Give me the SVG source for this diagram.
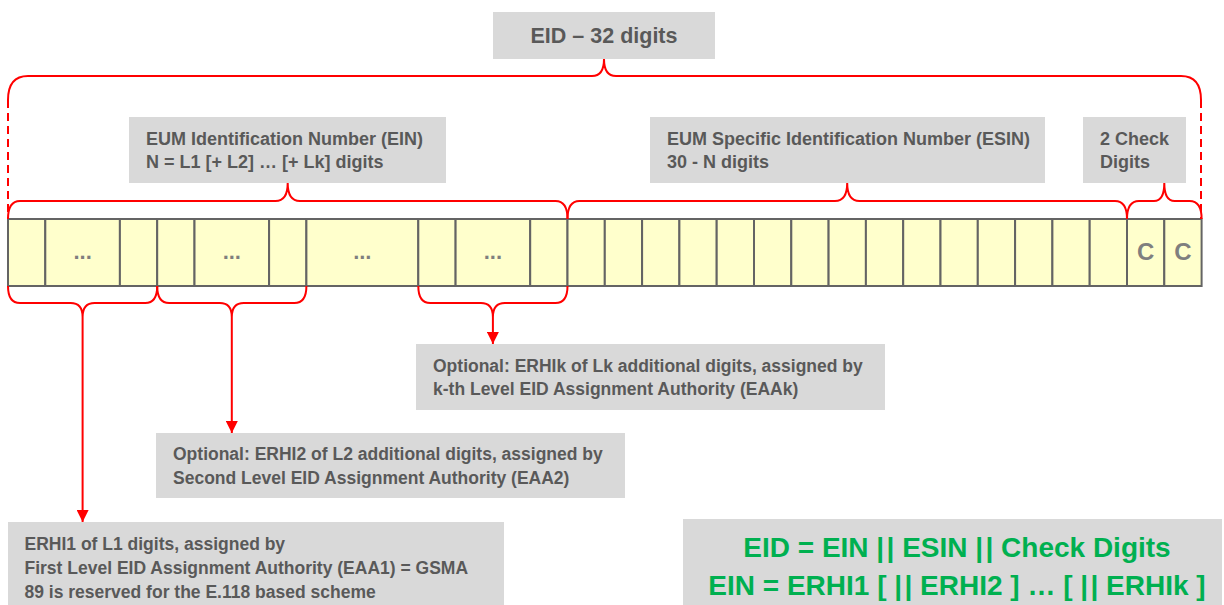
<svg xmlns="http://www.w3.org/2000/svg" width="1224" height="605" viewBox="0 0 1224 605">
<style>
.box{fill:#D9D9D9}
.t{font-family:"Liberation Sans",Arial,sans-serif;font-weight:bold;fill:#595959}
.cell{fill:#FFFFCC;stroke:#646464;stroke-width:2}
.dots{font-family:"Liberation Sans",Arial,sans-serif;font-weight:bold;fill:#7F7F7F;font-size:22px;text-anchor:middle}
.cc{font-family:"Liberation Sans",Arial,sans-serif;font-weight:bold;fill:#7F7F7F;font-size:24px;text-anchor:middle}
.br{fill:none;stroke:#FF0000;stroke-width:2}
.dash{fill:none;stroke:#FF0000;stroke-width:2;stroke-dasharray:8 5}
.ar{fill:none;stroke:#FF0000;stroke-width:2;marker-end:url(#arr)}
.g{font-family:"Liberation Sans",Arial,sans-serif;font-weight:bold;fill:#00B050;font-size:28px;text-anchor:middle}
</style>
<defs>
<marker id="arr" viewBox="0 0 10 10" refX="10" refY="5" markerWidth="13" markerHeight="12" orient="auto" markerUnits="userSpaceOnUse">
<path d="M0,0 L10,5 L0,10 z" fill="#FF0000"/>
</marker>
</defs>
<rect width="1224" height="605" fill="#FFFFFF"/>

<g id="eid-label">
<rect class="box" x="493" y="12" width="222" height="47"/>
<text class="t" x="604" y="43" font-size="21.5" text-anchor="middle">EID – 32 digits</text>
</g>

<g id="ein-label">
<rect class="box" x="129" y="117" width="317" height="66"/>
<text class="t" font-size="18"><tspan x="146" y="145">EUM Identification Number (EIN)</tspan><tspan x="146" y="168">N = L1 [+ L2] … [+ Lk] digits</tspan></text>
</g>

<g id="esin-label">
<rect class="box" x="650" y="117" width="395" height="66"/>
<text class="t" font-size="18"><tspan x="667" y="145">EUM Specific Identification Number (ESIN)</tspan><tspan x="667" y="168">30 - N digits</tspan></text>
</g>

<g id="check-label">
<rect class="box" x="1083" y="117" width="103" height="66"/>
<text class="t" font-size="18"><tspan x="1100" y="145">2 Check</tspan><tspan x="1100" y="168">Digits</tspan></text>
</g>

<g id="digit-row">
<rect class="cell" x="8" y="219" width="37.3" height="67"/>
<rect class="cell" x="45.3" y="219" width="74.6" height="67"/>
<rect class="cell" x="119.9" y="219" width="37.3" height="67"/>
<rect class="cell" x="157.2" y="219" width="37.3" height="67"/>
<rect class="cell" x="194.5" y="219" width="74.6" height="67"/>
<rect class="cell" x="269.1" y="219" width="37.3" height="67"/>
<rect class="cell" x="306.4" y="219" width="111.9" height="67"/>
<rect class="cell" x="418.3" y="219" width="37.3" height="67"/>
<rect class="cell" x="455.6" y="219" width="74.6" height="67"/>
<rect class="cell" x="530.2" y="219" width="37.3" height="67"/>
<rect class="cell" x="567.5" y="219" width="37.3" height="67"/>
<rect class="cell" x="604.8" y="219" width="37.3" height="67"/>
<rect class="cell" x="642.1" y="219" width="37.3" height="67"/>
<rect class="cell" x="679.4" y="219" width="37.3" height="67"/>
<rect class="cell" x="716.7" y="219" width="37.3" height="67"/>
<rect class="cell" x="754" y="219" width="37.3" height="67"/>
<rect class="cell" x="791.3" y="219" width="37.3" height="67"/>
<rect class="cell" x="828.6" y="219" width="37.3" height="67"/>
<rect class="cell" x="865.9" y="219" width="37.3" height="67"/>
<rect class="cell" x="903.2" y="219" width="37.3" height="67"/>
<rect class="cell" x="940.5" y="219" width="37.3" height="67"/>
<rect class="cell" x="977.8" y="219" width="37.3" height="67"/>
<rect class="cell" x="1015.1" y="219" width="37.3" height="67"/>
<rect class="cell" x="1052.4" y="219" width="37.3" height="67"/>
<rect class="cell" x="1089.7" y="219" width="37.3" height="67"/>
<rect class="cell" x="1127" y="219" width="37.3" height="67"/>
<rect class="cell" x="1164.3" y="219" width="37.3" height="67"/>
<text class="dots" x="82.6" y="259">...</text>
<text class="dots" x="231.8" y="259">...</text>
<text class="dots" x="362.3" y="259">...</text>
<text class="dots" x="492.9" y="259">...</text>
<text class="cc" x="1145.6" y="260">C</text>
<text class="cc" x="1183" y="260">C</text>
</g>

<g id="erhik-box">
<rect class="box" x="416" y="344" width="469" height="66"/>
<text class="t" font-size="17.5"><tspan x="433" y="372">Optional: ERHIk of Lk additional digits, assigned by</tspan><tspan x="433" y="395">k-th Level EID Assignment Authority (EAAk)</tspan></text>
</g>

<g id="erhi2-box">
<rect class="box" x="156" y="433" width="469" height="65"/>
<text class="t" font-size="17.5"><tspan x="173" y="460">Optional: ERHI2 of L2 additional digits, assigned by</tspan><tspan x="173" y="484">Second Level EID Assignment Authority (EAA2)</tspan></text>
</g>

<g id="erhi1-box">
<rect class="box" x="8" y="522" width="496" height="83"/>
<text class="t" font-size="17.5"><tspan x="24.5" y="550">ERHI1 of L1 digits, assigned by</tspan><tspan x="24.5" y="574">First Level EID Assignment Authority (EAA1) = GSMA</tspan><tspan x="24.5" y="598">89 is reserved for the E.118 based scheme</tspan></text>
</g>

<g id="formula-box">
<rect class="box" x="683" y="519" width="539" height="86"/>
<text class="g" x="957" y="557">EID = EIN |&#8202;| ESIN |&#8202;| Check Digits</text>
<text class="g" x="957" y="595">EIN = ERHI1 [ |&#8202;| ERHI2 ] … [ |&#8202;| ERHIk ]</text>
</g>

<g id="connectors">
<path class="br" d="M8,100 Q8,76 28,76 L592,76 Q604,76 604,59 Q604,76 616,76 L1181,76 Q1201,76 1201,100"/>
<path class="dash" d="M8,100 L8,219"/>
<path class="dash" d="M1201,100 L1201,219"/>
<path class="br" d="M8,219 Q8,201 20,201 L275.5,201 Q287.7,201 287.7,183 Q287.7,201 299.9,201 L555.5,201 Q567.5,201 567.5,219"/>
<path class="br" d="M567.5,219 Q567.5,201 579.5,201 L835,201 Q847.2,201 847.2,183 Q847.2,201 859.4,201 L1115,201 Q1127,201 1127,219"/>
<path class="br" d="M1127,219 Q1127,201 1139,201 L1154,201 Q1164.3,201 1164.3,183 Q1164.3,201 1174.6,201 L1189.6,201 Q1201.6,201 1201.6,219"/>
<path class="br" d="M8,286 Q8,303 20,303 L70.6,303 Q82.6,303 82.6,317 Q82.6,303 94.6,303 L145.2,303 Q157.2,303 157.2,286"/>
<path class="br" d="M157.2,286 Q157.2,303 169.2,303 L219.8,303 Q231.8,303 231.8,317 Q231.8,303 243.8,303 L294.4,303 Q306.4,303 306.4,286"/>
<path class="br" d="M418.3,286 Q418.3,303 430.3,303 L480.9,303 Q492.9,303 492.9,317 Q492.9,303 504.9,303 L555.5,303 Q567.5,303 567.5,286"/>
<line class="ar" x1="82.6" y1="317" x2="82.6" y2="522"/>
<line class="ar" x1="231.8" y1="317" x2="231.8" y2="433"/>
<line class="ar" x1="492.9" y1="317" x2="492.9" y2="344"/>
</g>
</svg>
